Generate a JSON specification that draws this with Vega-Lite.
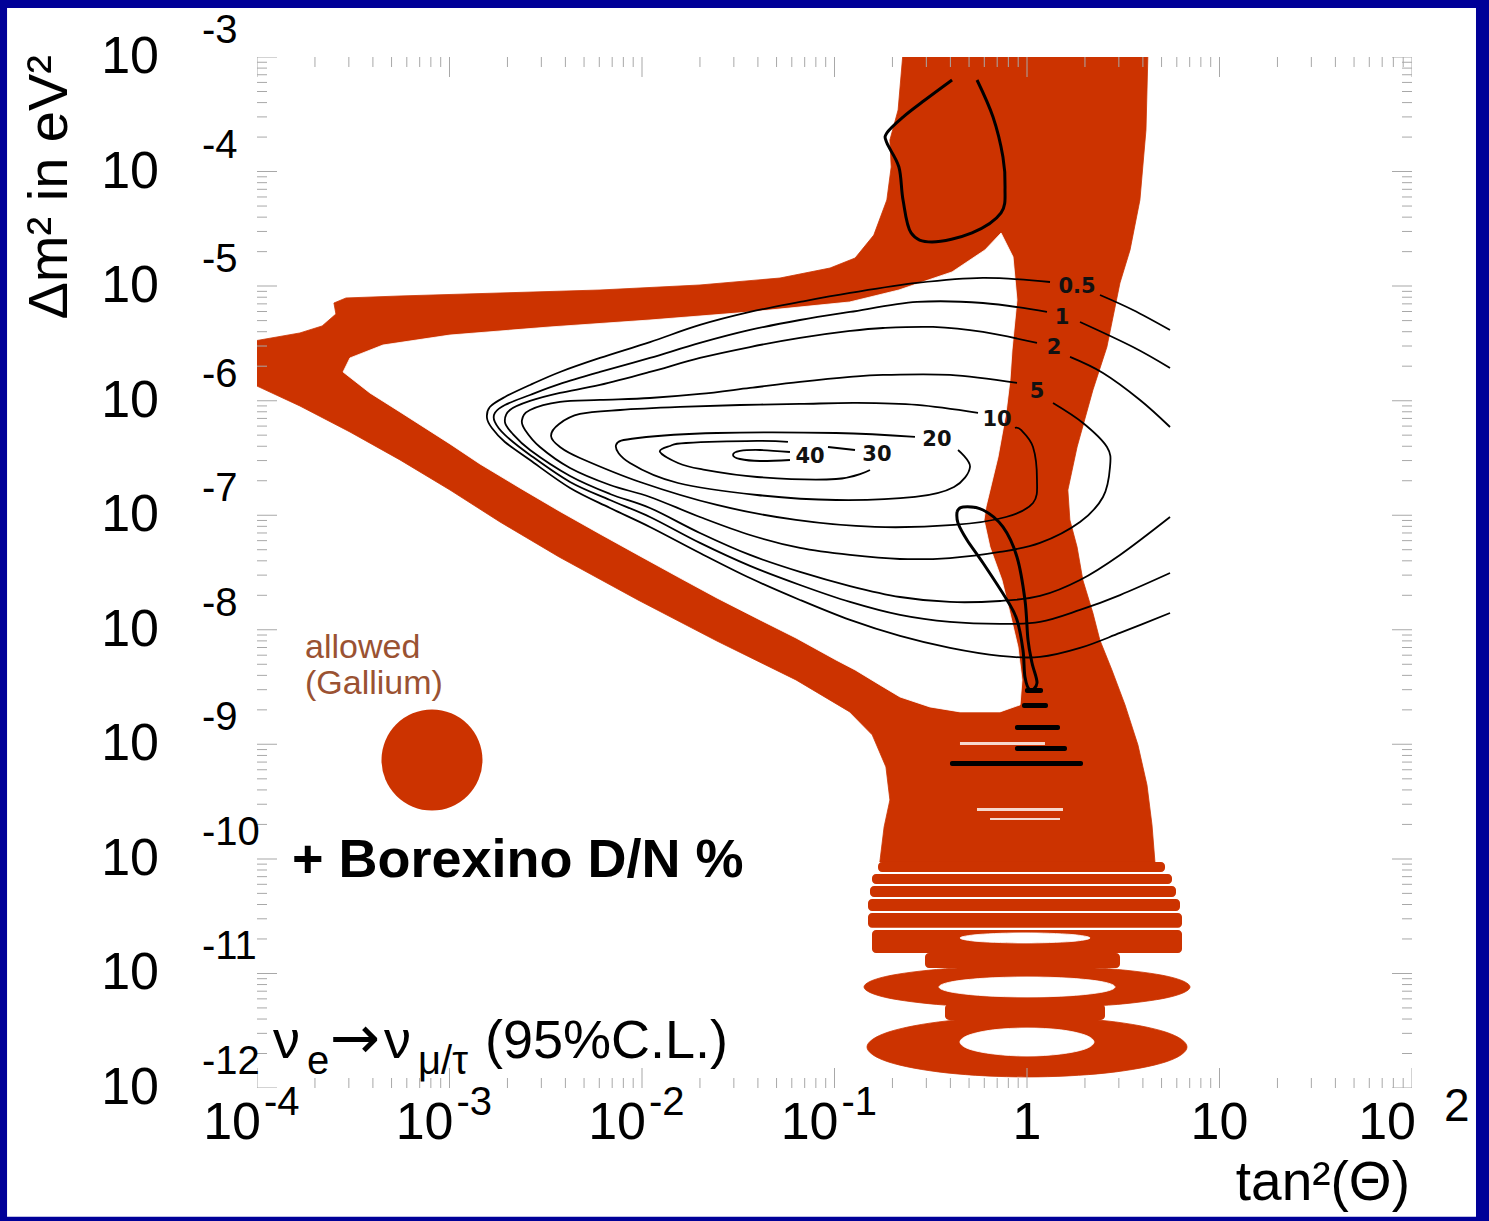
{
"$schema": "https://vega.github.io/schema/vega-lite/v6.json",
"width": 1155, "height": 1031,
"autosize": {"type": "none"},
"padding": {"left": 257, "top": 57, "right": 77, "bottom": 133},
"background": "#000098",
"config": {"view": {"stroke": null}, "text": {"font": "Liberation Sans"}},
"datasets": {
"red": [
{"s":"main","i":1,"x":0.227,"y":1.1e-3},{"s":"main","i":2,"x":4.25,"y":1.1e-3},{"s":"main","i":3,"x":4.15,"y":2.31e-4},{"s":"main","i":4,"x":3.86,"y":5.65e-5},{"s":"main","i":5,"x":3.43,"y":2.07e-5},{"s":"main","i":6,"x":3.04,"y":1.065e-5},{"s":"main","i":7,"x":2.60,"y":2.94e-6},{"s":"main","i":8,"x":2.20,"y":1.24e-6},{"s":"main","i":9,"x":1.82,"y":3.94e-7},{"s":"main","i":10,"x":1.63,"y":1.66e-7},{"s":"main","i":11,"x":1.67,"y":9.09e-8},{"s":"main","i":12,"x":1.82,"y":5.28e-8},{"s":"main","i":13,"x":1.95,"y":2.72e-8},{"s":"main","i":14,"x":2.20,"y":1.40e-8},{"s":"main","i":15,"x":2.39,"y":8.15e-9},{"s":"main","i":16,"x":2.76,"y":4.46e-9},{"s":"main","i":17,"x":3.23,"y":2.21e-9},{"s":"main","i":18,"x":3.77,"y":9.87e-10},{"s":"main","i":19,"x":4.20,"y":4.42e-10},{"s":"main","i":20,"x":4.46,"y":1.98e-10},{"s":"main","i":21,"x":4.62,"y":9.40e-11},{"s":"main","i":22,"x":0.172,"y":9.40e-11},{"s":"main","i":23,"x":0.181,"y":1.90e-10},{"s":"main","i":24,"x":0.194,"y":3.27e-10},{"s":"main","i":25,"x":0.185,"y":6.35e-10},{"s":"main","i":26,"x":0.157,"y":1.21e-9},{"s":"main","i":27,"x":0.120,"y":1.92e-9},{"s":"main","i":28,"x":0.0631,"y":3.65e-9},{"s":"main","i":29,"x":0.0245,"y":7.98e-9},{"s":"main","i":30,"x":0.00953,"y":1.82e-8},{"s":"main","i":31,"x":0.00371,"y":4.32e-8},{"s":"main","i":32,"x":0.00183,"y":8.73e-8},{"s":"main","i":33,"x":0.001006,"y":1.66e-7},{"s":"main","i":34,"x":5.53e-4,"y":3.04e-7},{"s":"main","i":35,"x":3.04e-4,"y":5.33e-7},{"s":"main","i":36,"x":1.67e-4,"y":8.99e-7},{"s":"main","i":37,"x":9e-5,"y":1.456e-6},{"s":"main","i":38,"x":9e-5,"y":3.25e-6},{"s":"main","i":39,"x":1.67e-4,"y":3.90e-6},{"s":"main","i":40,"x":2.18e-4,"y":4.49e-6},{"s":"main","i":41,"x":2.57e-4,"y":5.71e-6},{"s":"main","i":42,"x":2.51e-4,"y":7.12e-6},{"s":"main","i":43,"x":2.90e-4,"y":7.88e-6},{"s":"main","i":44,"x":5.53e-4,"y":8.20e-6},{"s":"main","i":45,"x":1.83e-3,"y":8.71e-6},{"s":"main","i":46,"x":6.05e-3,"y":9.25e-6},{"s":"main","i":47,"x":0.0200,"y":1.023e-5},{"s":"main","i":48,"x":0.0521,"y":1.177e-5},{"s":"main","i":49,"x":0.0948,"y":1.439e-5},{"s":"main","i":50,"x":0.128,"y":1.76e-5},{"s":"main","i":51,"x":0.160,"y":2.79e-5},{"s":"main","i":52,"x":0.187,"y":5.65e-5},{"s":"main","i":53,"x":0.197,"y":1.096e-4},{"s":"main","i":54,"x":0.194,"y":1.886e-4},{"s":"main","i":55,"x":0.214,"y":3.45e-4}
],
"redEll": [
{"s":"r1","i":1,"x":7.03,"y":7.62e-12},{"s":"r1","i":2,"x":5.41,"y":9.41e-12},{"s":"r1","i":3,"x":2.651,"y":1.099e-11},{"s":"r1","i":4,"x":1,"y":1.163e-11},{"s":"r1","i":5,"x":0.3772,"y":1.099e-11},{"s":"r1","i":6,"x":0.1848,"y":9.41e-12},{"s":"r1","i":7,"x":0.1423,"y":7.62e-12},{"s":"r1","i":8,"x":0.1848,"y":6.17e-12},{"s":"r1","i":9,"x":0.3772,"y":5.29e-12},{"s":"r1","i":10,"x":1,"y":5.00e-12},{"s":"r1","i":11,"x":2.651,"y":5.29e-12},{"s":"r1","i":12,"x":5.41,"y":6.17e-12},
{"s":"r2","i":1,"x":6.78,"y":2.28e-12},{"s":"r2","i":2,"x":5.25,"y":3.08e-12},{"s":"r2","i":3,"x":2.603,"y":3.85e-12},{"s":"r2","i":4,"x":1,"y":4.17e-12},{"s":"r2","i":5,"x":0.3842,"y":3.85e-12},{"s":"r2","i":6,"x":0.1906,"y":3.08e-12},{"s":"r2","i":7,"x":0.1475,"y":2.28e-12},{"s":"r2","i":8,"x":0.1906,"y":1.688e-12},{"s":"r2","i":9,"x":0.3842,"y":1.354e-12},{"s":"r2","i":10,"x":1,"y":1.249e-12},{"s":"r2","i":11,"x":2.603,"y":1.354e-12},{"s":"r2","i":12,"x":5.25,"y":1.688e-12}
],
"stripes": [
{"x1":0.1683,"x2":5.212,"y1":9.40e-11,"y2":7.69e-11},
{"x1":0.1566,"x2":5.666,"y1":7.39e-11,"y2":6.04e-11},
{"x1":0.1529,"x2":5.943,"y1":5.80e-11,"y2":4.65e-11},
{"x1":0.1493,"x2":6.234,"y1":4.47e-11,"y2":3.51e-11},
{"x1":0.1493,"x2":6.386,"y1":3.37e-11,"y2":2.50e-11},
{"x1":0.1566,"x2":6.386,"y1":2.40e-11,"y2":1.51e-11},
{"x1":0.2952,"x2":3.042,"y1":1.51e-11,"y2":1.117e-11},
{"x1":0.375,"x2":2.542,"y1":5.42e-12,"y2":3.93e-12}
],
"white": [
{"s":"hole","i":1,"x":2.80e-4,"y":1.78e-6},{"s":"hole","i":2,"x":3.04e-4,"y":2.36e-6},{"s":"hole","i":3,"x":4.51e-4,"y":3.06e-6},{"s":"hole","i":4,"x":1.006e-3,"y":3.74e-6},{"s":"hole","i":5,"x":3.33e-3,"y":4.40e-6},{"s":"hole","i":6,"x":0.0110,"y":5.06e-6},{"s":"hole","i":7,"x":0.0364,"y":5.94e-6},{"s":"hole","i":8,"x":0.120,"y":7.27e-6},{"s":"hole","i":9,"x":0.216,"y":9.25e-6},{"s":"hole","i":10,"x":0.408,"y":1.33e-5},{"s":"hole","i":11,"x":0.605,"y":2.07e-5},{"s":"hole","i":12,"x":0.733,"y":2.91e-5},{"s":"hole","i":13,"x":0.846,"y":1.80e-5},{"s":"hole","i":14,"x":0.887,"y":7.57e-6},{"s":"hole","i":15,"x":0.836,"y":2.77e-6},{"s":"hole","i":16,"x":0.816,"y":1.515e-6},{"s":"hole","i":17,"x":0.778,"y":7.81e-7},{"s":"hole","i":18,"x":0.707,"y":3.22e-7},{"s":"hole","i":19,"x":0.612,"y":1.18e-7},{"s":"hole","i":20,"x":0.598,"y":9.09e-8},{"s":"hole","i":21,"x":0.642,"y":5.28e-8},{"s":"hole","i":22,"x":0.741,"y":2.72e-8},{"s":"hole","i":23,"x":0.816,"y":1.40e-8},{"s":"hole","i":24,"x":0.898,"y":7.08e-9},{"s":"hole","i":25,"x":0.942,"y":3.65e-9},{"s":"hole","i":26,"x":0.920,"y":2.21e-9},{"s":"hole","i":27,"x":0.724,"y":1.92e-9},{"s":"hole","i":28,"x":0.449,"y":1.92e-9},{"s":"hole","i":29,"x":0.313,"y":2.12e-9},{"s":"hole","i":30,"x":0.219,"y":2.59e-9},{"s":"hole","i":31,"x":0.172,"y":3.30e-9},{"s":"hole","i":32,"x":0.128,"y":4.46e-9},{"s":"hole","i":33,"x":0.1018,"y":5.45e-9},{"s":"hole","i":34,"x":0.0631,"y":8.48e-9},{"s":"hole","i":35,"x":0.0410,"y":1.22e-8},{"s":"hole","i":36,"x":0.0245,"y":1.895e-8},{"s":"hole","i":37,"x":0.01576,"y":2.83e-8},{"s":"hole","i":38,"x":0.00953,"y":4.50e-8},{"s":"hole","i":39,"x":0.00605,"y":6.86e-8},{"s":"hole","i":40,"x":0.00371,"y":1.089e-7},{"s":"hole","i":41,"x":0.00232,"y":1.73e-7},{"s":"hole","i":42,"x":0.00144,"y":2.80e-7},{"s":"hole","i":43,"x":0.001006,"y":4.19e-7},{"s":"hole","i":44,"x":5.53e-4,"y":7.97e-7},{"s":"hole","i":45,"x":3.86e-4,"y":1.167e-6}
],
"whiteEll": [
{"s":"r1h","i":1,"x":2.865,"y":7.62e-12},{"s":"r1h","i":2,"x":2.488,"y":8.43e-12},{"s":"r1h","i":3,"x":1.693,"y":9.07e-12},{"s":"r1h","i":4,"x":1,"y":9.32e-12},{"s":"r1h","i":5,"x":0.591,"y":9.07e-12},{"s":"r1h","i":6,"x":0.402,"y":8.43e-12},{"s":"r1h","i":7,"x":0.349,"y":7.62e-12},{"s":"r1h","i":8,"x":0.402,"y":6.89e-12},{"s":"r1h","i":9,"x":0.591,"y":6.40e-12},{"s":"r1h","i":10,"x":1,"y":6.23e-12},{"s":"r1h","i":11,"x":1.693,"y":6.40e-12},{"s":"r1h","i":12,"x":2.488,"y":6.89e-12},
{"s":"r2h","i":1,"x":2.229,"y":2.52e-12},{"s":"r2h","i":2,"x":2.002,"y":2.90e-12},{"s":"r2h","i":3,"x":1.493,"y":3.22e-12},{"s":"r2h","i":4,"x":1,"y":3.34e-12},{"s":"r2h","i":5,"x":0.670,"y":3.22e-12},{"s":"r2h","i":6,"x":0.4995,"y":2.90e-12},{"s":"r2h","i":7,"x":0.4486,"y":2.52e-12},{"s":"r2h","i":8,"x":0.4995,"y":2.19e-12},{"s":"r2h","i":9,"x":0.670,"y":1.98e-12},{"s":"r2h","i":10,"x":1,"y":1.90e-12},{"s":"r2h","i":11,"x":1.493,"y":1.98e-12},{"s":"r2h","i":12,"x":2.002,"y":2.19e-12},
{"s":"s6h","i":1,"x":2.125,"y":2.04e-11},{"s":"s6h","i":2,"x":1.692,"y":2.19e-11},{"s":"s6h","i":3,"x":0.976,"y":2.26e-11},{"s":"s6h","i":4,"x":0.563,"y":2.19e-11},{"s":"s6h","i":5,"x":0.449,"y":2.04e-11},{"s":"s6h","i":6,"x":0.563,"y":1.90e-11},{"s":"s6h","i":7,"x":0.976,"y":1.845e-11},{"s":"s6h","i":8,"x":1.692,"y":1.90e-11}
],
"streaks": [
{"x1":0.5498,"x2":1.538,"y1":2.783e-10,"y2":2.620e-10},
{"x1":0.6425,"x2":1.484,"y1":2.276e-10,"y2":2.187e-10},
{"x1":0.4486,"x2":1.240,"y1":1.049e-9,"y2":9.87e-10}
],
"bars": [
{"x1":0.976,"x2":1.211,"y1":3.10e-9,"y2":2.81e-9},
{"x1":0.942,"x2":1.285,"y1":2.30e-9,"y2":2.08e-9},
{"x1":0.866,"x2":1.484,"y1":1.476e-9,"y2":1.335e-9},
{"x1":0.866,"x2":1.613,"y1":9.68e-10,"y2":8.75e-10},
{"x1":0.398,"x2":1.954,"y1":7.16e-10,"y2":6.47e-10}
],
"contours": [
{"s":"c05a","i":1,"x":1.317,"y":1.086e-5},{"s":"c05a","i":2,"x":0.5906,"y":1.178e-5},{"s":"c05a","i":3,"x":0.2683,"y":1.065e-5},{"s":"c05a","i":4,"x":0.1204,"y":8.71e-6},{"s":"c05a","i":5,"x":0.0662,"y":7.27e-6},{"s":"c05a","i":6,"x":0.0364,"y":5.95e-6},{"s":"c05a","i":7,"x":0.0200,"y":4.58e-6},{"s":"c05a","i":8,"x":0.0110,"y":3.25e-6},{"s":"c05a","i":9,"x":0.00605,"y":2.36e-6},{"s":"c05a","i":10,"x":0.00375,"y":1.78e-6},{"s":"c05a","i":11,"x":0.00262,"y":1.371e-6},{"s":"c05a","i":12,"x":0.00194,"y":1.077e-6},{"s":"c05a","i":13,"x":0.00162,"y":8.81e-7},{"s":"c05a","i":14,"x":0.001566,"y":7.06e-7},{"s":"c05a","i":15,"x":0.00166,"y":5.78e-7},{"s":"c05a","i":16,"x":0.00194,"y":4.36e-7},{"s":"c05a","i":17,"x":0.00262,"y":3.03e-7},{"s":"c05a","i":18,"x":0.00423,"y":1.729e-7},{"s":"c05a","i":19,"x":0.00682,"y":1.157e-7},{"s":"c05a","i":20,"x":0.0110,"y":7.90e-8},{"s":"c05a","i":21,"x":0.0200,"y":4.68e-8},{"s":"c05a","i":22,"x":0.0364,"y":2.83e-8},{"s":"c05a","i":23,"x":0.0662,"y":1.821e-8},{"s":"c05a","i":24,"x":0.1204,"y":1.218e-8},{"s":"c05a","i":25,"x":0.2189,"y":8.83e-9},{"s":"c05a","i":26,"x":0.398,"y":6.94e-9},{"s":"c05a","i":27,"x":0.724,"y":5.91e-9},{"s":"c05a","i":28,"x":1.168,"y":5.79e-9},{"s":"c05a","i":29,"x":1.885,"y":6.94e-9},{"s":"c05a","i":30,"x":3.042,"y":9.38e-9},{"s":"c05a","i":31,"x":5.533,"y":1.402e-8},
{"s":"c05b","i":1,"x":2.394,"y":8.37e-6},{"s":"c05b","i":2,"x":3.553,"y":6.19e-6},{"s":"c05b","i":3,"x":5.533,"y":4.14e-6},
{"s":"c1a","i":1,"x":1.270,"y":5.95e-6},{"s":"c1a","i":2,"x":0.5906,"y":7.12e-6},{"s":"c1a","i":3,"x":0.2683,"y":7.27e-6},{"s":"c1a","i":4,"x":0.1204,"y":5.95e-6},{"s":"c1a","i":5,"x":0.0662,"y":5.06e-6},{"s":"c1a","i":6,"x":0.0364,"y":4.14e-6},{"s":"c1a","i":7,"x":0.0200,"y":3.19e-6},{"s":"c1a","i":8,"x":0.0110,"y":2.36e-6},{"s":"c1a","i":9,"x":0.00605,"y":1.78e-6},{"s":"c1a","i":10,"x":0.00375,"y":1.399e-6},{"s":"c1a","i":11,"x":0.00262,"y":1.121e-6},{"s":"c1a","i":12,"x":0.00194,"y":9.17e-7},{"s":"c1a","i":13,"x":0.00172,"y":7.81e-7},{"s":"c1a","i":14,"x":0.00172,"y":6.52e-7},{"s":"c1a","i":15,"x":0.00194,"y":5.02e-7},{"s":"c1a","i":16,"x":0.00262,"y":3.36e-7},{"s":"c1a","i":17,"x":0.00423,"y":1.950e-7},{"s":"c1a","i":18,"x":0.00682,"y":1.358e-7},{"s":"c1a","i":19,"x":0.0110,"y":9.65e-8},{"s":"c1a","i":20,"x":0.0200,"y":5.73e-8},{"s":"c1a","i":21,"x":0.0364,"y":3.61e-8},{"s":"c1a","i":22,"x":0.0662,"y":2.46e-8},{"s":"c1a","i":23,"x":0.1204,"y":1.749e-8},{"s":"c1a","i":24,"x":0.2189,"y":1.347e-8},{"s":"c1a","i":25,"x":0.398,"y":1.170e-8},{"s":"c1a","i":26,"x":0.724,"y":1.124e-8},{"s":"c1a","i":27,"x":1.168,"y":1.170e-8},{"s":"c1a","i":28,"x":1.885,"y":1.489e-8},{"s":"c1a","i":29,"x":3.042,"y":2.01e-8},{"s":"c1a","i":30,"x":5.533,"y":3.13e-8},
{"s":"c1b","i":1,"x":1.885,"y":4.86e-6},{"s":"c1b","i":2,"x":3.553,"y":2.94e-6},{"s":"c1b","i":3,"x":5.533,"y":1.928e-6},
{"s":"c2a","i":1,"x":1.127,"y":3.19e-6},{"s":"c2a","i":2,"x":0.5906,"y":3.98e-6},{"s":"c2a","i":3,"x":0.3248,"y":4.40e-6},{"s":"c2a","i":4,"x":0.1786,"y":4.31e-6},{"s":"c2a","i":5,"x":0.1204,"y":4.06e-6},{"s":"c2a","i":6,"x":0.0662,"y":3.53e-6},{"s":"c2a","i":7,"x":0.0364,"y":2.94e-6},{"s":"c2a","i":8,"x":0.0200,"y":2.36e-6},{"s":"c2a","i":9,"x":0.0110,"y":1.78e-6},{"s":"c2a","i":10,"x":0.00605,"y":1.371e-6},{"s":"c2a","i":11,"x":0.00375,"y":1.167e-6},{"s":"c2a","i":12,"x":0.00262,"y":9.94e-7},{"s":"c2a","i":13,"x":0.00206,"y":8.29e-7},{"s":"c2a","i":14,"x":0.00194,"y":6.52e-7},{"s":"c2a","i":15,"x":0.00211,"y":5.22e-7},{"s":"c2a","i":16,"x":0.00262,"y":3.71e-7},{"s":"c2a","i":17,"x":0.00423,"y":2.20e-7},{"s":"c2a","i":18,"x":0.00682,"y":1.533e-7},{"s":"c2a","i":19,"x":0.0110,"y":1.157e-7},{"s":"c2a","i":20,"x":0.0200,"y":7.00e-8},{"s":"c2a","i":21,"x":0.0364,"y":4.50e-8},{"s":"c2a","i":22,"x":0.0662,"y":3.20e-8},{"s":"c2a","i":23,"x":0.1204,"y":2.41e-8},{"s":"c2a","i":24,"x":0.2189,"y":1.933e-8},{"s":"c2a","i":25,"x":0.398,"y":1.749e-8},{"s":"c2a","i":26,"x":0.724,"y":1.784e-8},{"s":"c2a","i":27,"x":1.168,"y":1.972e-8},{"s":"c2a","i":28,"x":1.885,"y":2.72e-8},{"s":"c2a","i":29,"x":3.042,"y":4.50e-8},{"s":"c2a","i":30,"x":5.533,"y":9.65e-8},
{"s":"c2b","i":1,"x":1.673,"y":2.41e-6},{"s":"c2b","i":2,"x":2.482,"y":1.744e-6},{"s":"c2b","i":3,"x":3.864,"y":1.014e-6},{"s":"c2b","i":4,"x":5.533,"y":5.89e-7},
{"s":"c5a","i":1,"x":0.8874,"y":1.427e-6},{"s":"c5a","i":2,"x":0.398,"y":1.676e-6},{"s":"c5a","i":3,"x":0.1786,"y":1.676e-6},{"s":"c5a","i":4,"x":0.1204,"y":1.610e-6},{"s":"c5a","i":5,"x":0.0662,"y":1.456e-6},{"s":"c5a","i":6,"x":0.0364,"y":1.291e-6},{"s":"c5a","i":7,"x":0.0200,"y":1.144e-6},{"s":"c5a","i":8,"x":0.0110,"y":1.055e-6},{"s":"c5a","i":9,"x":0.00605,"y":1.014e-6},{"s":"c5a","i":10,"x":0.00375,"y":9.74e-7},{"s":"c5a","i":11,"x":0.00262,"y":8.29e-7},{"s":"c5a","i":12,"x":0.00238,"y":6.78e-7},{"s":"c5a","i":13,"x":0.00247,"y":5.55e-7},{"s":"c5a","i":14,"x":0.00295,"y":3.94e-7},{"s":"c5a","i":15,"x":0.00423,"y":2.585e-7},{"s":"c5a","i":16,"x":0.00682,"y":1.836e-7},{"s":"c5a","i":17,"x":0.0110,"y":1.443e-7},{"s":"c5a","i":18,"x":0.0200,"y":9.65e-8},{"s":"c5a","i":19,"x":0.0364,"y":6.72e-8},{"s":"c5a","i":20,"x":0.0662,"y":5.18e-8},{"s":"c5a","i":21,"x":0.1204,"y":4.50e-8},{"s":"c5a","i":22,"x":0.2189,"y":4.15e-8},{"s":"c5a","i":23,"x":0.398,"y":4.23e-8},{"s":"c5a","i":24,"x":0.724,"y":4.78e-8},{"s":"c5a","i":25,"x":1.168,"y":5.73e-8},{"s":"c5a","i":26,"x":1.885,"y":8.73e-8},{"s":"c5a","i":27,"x":2.482,"y":1.443e-7},{"s":"c5a","i":28,"x":2.699,"y":2.637e-7},{"s":"c5a","i":29,"x":2.603,"y":3.94e-7},{"s":"c5a","i":30,"x":1.954,"y":6.39e-7},{"s":"c5a","i":31,"x":1.365,"y":9.55e-7},
{"s":"c10a","i":1,"x":0.5566,"y":7.81e-7},{"s":"c10a","i":2,"x":0.2683,"y":9.17e-7},{"s":"c10a","i":3,"x":0.1309,"y":9.55e-7},{"s":"c10a","i":4,"x":0.0662,"y":9.36e-7},{"s":"c10a","i":5,"x":0.0323,"y":9.17e-7},{"s":"c10a","i":6,"x":0.01576,"y":8.81e-7},{"s":"c10a","i":7,"x":0.00769,"y":8.29e-7},{"s":"c10a","i":8,"x":0.00476,"y":7.65e-7},{"s":"c10a","i":9,"x":0.00371,"y":6.26e-7},{"s":"c10a","i":10,"x":0.00337,"y":4.92e-7},{"s":"c10a","i":11,"x":0.00375,"y":3.94e-7},{"s":"c10a","i":12,"x":0.00476,"y":3.16e-7},{"s":"c10a","i":13,"x":0.00976,"y":1.950e-7},{"s":"c10a","i":14,"x":0.0245,"y":1.229e-7},{"s":"c10a","i":15,"x":0.0631,"y":9.09e-8},{"s":"c10a","i":16,"x":0.1623,"y":7.90e-8},{"s":"c10a","i":17,"x":0.4177,"y":8.22e-8},{"s":"c10a","i":18,"x":0.778,"y":9.65e-8},{"s":"c10a","i":19,"x":1.0745,"y":1.279e-7},{"s":"c10a","i":20,"x":1.127,"y":2.031e-7},{"s":"c10a","i":21,"x":1.0745,"y":3.94e-7},{"s":"c10a","i":22,"x":0.9307,"y":5.55e-7},{"s":"c10a","i":23,"x":0.866,"y":5.78e-7},
{"s":"c20","i":1,"x":0.4382,"y":3.71e-7},{"s":"c20","i":2,"x":0.5057,"y":2.637e-7},{"s":"c20","i":3,"x":0.4177,"y":1.764e-7},{"s":"c20","i":4,"x":0.2619,"y":1.443e-7},{"s":"c20","i":5,"x":0.1018,"y":1.358e-7},{"s":"c20","i":6,"x":0.0396,"y":1.502e-7},{"s":"c20","i":7,"x":0.01538,"y":1.911e-7},{"s":"c20","i":8,"x":0.00866,"y":2.858e-7},{"s":"c20","i":9,"x":0.00733,"y":4.103e-7},{"s":"c20","i":10,"x":0.00953,"y":4.72e-7},{"s":"c20","i":11,"x":0.0245,"y":5.22e-7},{"s":"c20","i":12,"x":0.1018,"y":5.22e-7},{"s":"c20","i":13,"x":0.2619,"y":4.82e-7},
{"s":"c30a","i":1,"x":0.1529,"y":2.483e-7},{"s":"c30a","i":2,"x":0.1018,"y":2.072e-7},{"s":"c30a","i":3,"x":0.0396,"y":2.157e-7},{"s":"c30a","i":4,"x":0.0200,"y":2.534e-7},{"s":"c30a","i":5,"x":0.01538,"y":2.858e-7},{"s":"c30a","i":6,"x":0.0124,"y":3.565e-7},{"s":"c30a","i":7,"x":0.01398,"y":4.02e-7},{"s":"c30a","i":8,"x":0.01693,"y":4.27e-7},{"s":"c30a","i":9,"x":0.0396,"y":4.45e-7},{"s":"c30a","i":10,"x":0.0573,"y":4.36e-7},
{"s":"c30b","i":1,"x":0.0925,"y":3.94e-7},{"s":"c30b","i":2,"x":0.1278,"y":3.71e-7},
{"s":"c40","i":1,"x":0.0587,"y":3.565e-7},{"s":"c40","i":2,"x":0.0410,"y":3.711e-7},{"s":"c40","i":3,"x":0.0323,"y":3.637e-7},{"s":"c40","i":4,"x":0.0297,"y":3.356e-7},{"s":"c40","i":5,"x":0.0323,"y":3.096e-7},{"s":"c40","i":6,"x":0.0410,"y":2.975e-7},{"s":"c40","i":7,"x":0.0587,"y":3.034e-7}
],
"loops": [
{"s":"L1","i":1,"x":0.408,"y":6.30e-4},{"s":"L1","i":2,"x":0.295,"y":4.21e-4},{"s":"L1","i":3,"x":0.227,"y":2.99e-4},{"s":"L1","i":4,"x":0.187,"y":2.17e-4},{"s":"L1","i":5,"x":0.187,"y":1.78e-4},{"s":"L1","i":6,"x":0.216,"y":1.096e-4},{"s":"L1","i":7,"x":0.227,"y":5.65e-5},{"s":"L1","i":8,"x":0.250,"y":2.91e-5},{"s":"L1","i":9,"x":0.321,"y":2.43e-5},{"s":"L1","i":10,"x":0.518,"y":2.91e-5},{"s":"L1","i":11,"x":0.733,"y":4.35e-5},{"s":"L1","i":12,"x":0.769,"y":7.33e-5},{"s":"L1","i":13,"x":0.750,"y":1.34e-4},{"s":"L1","i":14,"x":0.666,"y":2.99e-4},{"s":"L1","i":15,"x":0.550,"y":6.30e-4},
{"s":"L2","i":1,"x":0.433,"y":1.067e-7},{"s":"L2","i":2,"x":0.465,"y":1.18e-7},{"s":"L2","i":3,"x":0.591,"y":1.111e-7},{"s":"L2","i":4,"x":0.750,"y":7.90e-8},{"s":"L2","i":5,"x":0.887,"y":4.32e-8},{"s":"L2","i":6,"x":0.976,"y":1.82e-8},{"s":"L2","i":7,"x":1.012,"y":8.15e-9},{"s":"L2","i":8,"x":1.062,"y":5.13e-9},{"s":"L2","i":9,"x":1.127,"y":3.43e-9},{"s":"L2","i":10,"x":1.037,"y":2.98e-9},{"s":"L2","i":11,"x":0.976,"y":3.87e-9},{"s":"L2","i":12,"x":0.953,"y":6.66e-9},{"s":"L2","i":13,"x":0.887,"y":1.22e-8},{"s":"L2","i":14,"x":0.787,"y":1.82e-8},{"s":"L2","i":15,"x":0.591,"y":3.83e-8},{"s":"L2","i":16,"x":0.488,"y":6.08e-8},{"s":"L2","i":17,"x":0.438,"y":8.56e-8},{"s":"L2","i":18,"x":0.433,"y":1.067e-7}
],
"ticksY": [
{"v":1e-12,"k":"M"},{"v":2e-12,"k":"m"},{"v":3e-12,"k":"m"},{"v":4e-12,"k":"m"},{"v":5e-12,"k":"m"},{"v":6e-12,"k":"m"},{"v":7e-12,"k":"m"},{"v":8e-12,"k":"m"},{"v":9e-12,"k":"m"},
{"v":1e-11,"k":"M"},{"v":2e-11,"k":"m"},{"v":3e-11,"k":"m"},{"v":4e-11,"k":"m"},{"v":5e-11,"k":"m"},{"v":6e-11,"k":"m"},{"v":7e-11,"k":"m"},{"v":8e-11,"k":"m"},{"v":9e-11,"k":"m"},
{"v":1e-10,"k":"M"},{"v":2e-10,"k":"m"},{"v":3e-10,"k":"m"},{"v":4e-10,"k":"m"},{"v":5e-10,"k":"m"},{"v":6e-10,"k":"m"},{"v":7e-10,"k":"m"},{"v":8e-10,"k":"m"},{"v":9e-10,"k":"m"},
{"v":1e-9,"k":"M"},{"v":2e-9,"k":"m"},{"v":3e-9,"k":"m"},{"v":4e-9,"k":"m"},{"v":5e-9,"k":"m"},{"v":6e-9,"k":"m"},{"v":7e-9,"k":"m"},{"v":8e-9,"k":"m"},{"v":9e-9,"k":"m"},
{"v":1e-8,"k":"M"},{"v":2e-8,"k":"m"},{"v":3e-8,"k":"m"},{"v":4e-8,"k":"m"},{"v":5e-8,"k":"m"},{"v":6e-8,"k":"m"},{"v":7e-8,"k":"m"},{"v":8e-8,"k":"m"},{"v":9e-8,"k":"m"},
{"v":1e-7,"k":"M"},{"v":2e-7,"k":"m"},{"v":3e-7,"k":"m"},{"v":4e-7,"k":"m"},{"v":5e-7,"k":"m"},{"v":6e-7,"k":"m"},{"v":7e-7,"k":"m"},{"v":8e-7,"k":"m"},{"v":9e-7,"k":"m"},
{"v":1e-6,"k":"M"},{"v":2e-6,"k":"m"},{"v":3e-6,"k":"m"},{"v":4e-6,"k":"m"},{"v":5e-6,"k":"m"},{"v":6e-6,"k":"m"},{"v":7e-6,"k":"m"},{"v":8e-6,"k":"m"},{"v":9e-6,"k":"m"},
{"v":1e-5,"k":"M"},{"v":2e-5,"k":"m"},{"v":3e-5,"k":"m"},{"v":4e-5,"k":"m"},{"v":5e-5,"k":"m"},{"v":6e-5,"k":"m"},{"v":7e-5,"k":"m"},{"v":8e-5,"k":"m"},{"v":9e-5,"k":"m"},
{"v":1e-4,"k":"M"},{"v":2e-4,"k":"m"},{"v":3e-4,"k":"m"},{"v":4e-4,"k":"m"},{"v":5e-4,"k":"m"},{"v":6e-4,"k":"m"},{"v":7e-4,"k":"m"},{"v":8e-4,"k":"m"},{"v":9e-4,"k":"m"},
{"v":1e-3,"k":"M"}
],
"ticksX": [
{"v":1e-4,"k":"M"},{"v":2e-4,"k":"m"},{"v":3e-4,"k":"m"},{"v":4e-4,"k":"m"},{"v":5e-4,"k":"m"},{"v":6e-4,"k":"m"},{"v":7e-4,"k":"m"},{"v":8e-4,"k":"m"},{"v":9e-4,"k":"m"},
{"v":1e-3,"k":"M"},{"v":2e-3,"k":"m"},{"v":3e-3,"k":"m"},{"v":4e-3,"k":"m"},{"v":5e-3,"k":"m"},{"v":6e-3,"k":"m"},{"v":7e-3,"k":"m"},{"v":8e-3,"k":"m"},{"v":9e-3,"k":"m"},
{"v":0.01,"k":"M"},{"v":0.02,"k":"m"},{"v":0.03,"k":"m"},{"v":0.04,"k":"m"},{"v":0.05,"k":"m"},{"v":0.06,"k":"m"},{"v":0.07,"k":"m"},{"v":0.08,"k":"m"},{"v":0.09,"k":"m"},
{"v":0.1,"k":"M"},{"v":0.2,"k":"m"},{"v":0.3,"k":"m"},{"v":0.4,"k":"m"},{"v":0.5,"k":"m"},{"v":0.6,"k":"m"},{"v":0.7,"k":"m"},{"v":0.8,"k":"m"},{"v":0.9,"k":"m"},
{"v":1,"k":"M"},{"v":2,"k":"m"},{"v":3,"k":"m"},{"v":4,"k":"m"},{"v":5,"k":"m"},{"v":6,"k":"m"},{"v":7,"k":"m"},{"v":8,"k":"m"},{"v":9,"k":"m"},
{"v":10,"k":"M"},{"v":20,"k":"m"},{"v":30,"k":"m"},{"v":40,"k":"m"},{"v":50,"k":"m"},{"v":60,"k":"m"},{"v":70,"k":"m"},{"v":80,"k":"m"},{"v":90,"k":"m"},
{"v":100,"k":"M"}
],
"yLab": [{"v":1e-3,"b":"10","e":"-3"},{"v":1e-4,"b":"10","e":"-4"},{"v":1e-5,"b":"10","e":"-5"},{"v":1e-6,"b":"10","e":"-6"},{"v":1e-7,"b":"10","e":"-7"},{"v":1e-8,"b":"10","e":"-8"},{"v":1e-9,"b":"10","e":"-9"},{"v":1e-10,"b":"10","e":"-10"},{"v":1e-11,"b":"10","e":"-11"},{"v":1e-12,"b":"10","e":"-12"}],
"xLab": [{"v":1e-4,"b":"10","e":"-4"},{"v":1e-3,"b":"10","e":"-3"},{"v":0.01,"b":"10","e":"-2"},{"v":0.1,"b":"10","e":"-1"},{"v":1,"b":"1","e":""},{"v":10,"b":"10","e":""},{"v":100,"b":"10","e":"2"}]
},
"layer": [
{"data": {"values": [{"x1": 5.03e-6, "x2": 215, "y1": 2.68e-3, "y2": 7.5e-14}]},
 "mark": {"type": "rect", "fill": "#ffffff", "clip": false},
 "encoding": {
  "x": {"field": "x1", "type": "quantitative", "scale": {"type": "log", "domain": [0.0001, 100], "nice": false}, "axis": null},
  "x2": {"field": "x2"},
  "y": {"field": "y1", "type": "quantitative", "scale": {"type": "log", "domain": [1e-12, 0.001], "nice": false}, "axis": null},
  "y2": {"field": "y2"}
 }},
{"data": {"name": "red"},
 "mark": {"type": "line", "fill": "#cc3300", "stroke": "#cc3300", "strokeWidth": 0.8, "interpolate": "linear-closed", "clip": true},
 "encoding": {"x": {"field": "x", "type": "quantitative", "axis": null}, "y": {"field": "y", "type": "quantitative", "axis": null}, "detail": {"field": "s"}, "order": {"field": "i", "type": "quantitative"}}},
{"data": {"name": "redEll"},
 "mark": {"type": "line", "fill": "#cc3300", "stroke": "#cc3300", "strokeWidth": 0.8, "interpolate": "cardinal-closed", "clip": true},
 "encoding": {"x": {"field": "x", "type": "quantitative", "axis": null}, "y": {"field": "y", "type": "quantitative", "axis": null}, "detail": {"field": "s"}, "order": {"field": "i", "type": "quantitative"}}},
{"data": {"name": "stripes"},
 "mark": {"type": "rect", "color": "#cc3300", "cornerRadius": 4, "clip": true},
 "encoding": {"x": {"field": "x1", "type": "quantitative", "axis": null}, "x2": {"field": "x2"}, "y": {"field": "y1", "type": "quantitative", "axis": null}, "y2": {"field": "y2"}}},
{"data": {"name": "white"},
 "mark": {"type": "line", "fill": "#ffffff", "stroke": "#ffffff", "strokeWidth": 0.8, "interpolate": "linear-closed", "clip": true},
 "encoding": {"x": {"field": "x", "type": "quantitative", "axis": null}, "y": {"field": "y", "type": "quantitative", "axis": null}, "detail": {"field": "s"}, "order": {"field": "i", "type": "quantitative"}}},
{"data": {"name": "whiteEll"},
 "mark": {"type": "line", "fill": "#ffffff", "stroke": "#ffffff", "strokeWidth": 0.8, "interpolate": "cardinal-closed", "clip": true},
 "encoding": {"x": {"field": "x", "type": "quantitative", "axis": null}, "y": {"field": "y", "type": "quantitative", "axis": null}, "detail": {"field": "s"}, "order": {"field": "i", "type": "quantitative"}}},
{"data": {"name": "streaks"},
 "mark": {"type": "rect", "color": "#f6d8cc", "clip": true},
 "encoding": {"x": {"field": "x1", "type": "quantitative", "axis": null}, "x2": {"field": "x2"}, "y": {"field": "y1", "type": "quantitative", "axis": null}, "y2": {"field": "y2"}}},
{"mark": {"type": "rule", "color": "#3a3a3a", "strokeWidth": 1},
 "encoding": {"x": {"datum": 1, "type": "quantitative", "axis": null}}},
{"data": {"name": "bars"},
 "mark": {"type": "rect", "color": "#000000", "cornerRadius": 2, "clip": true},
 "encoding": {"x": {"field": "x1", "type": "quantitative", "axis": null}, "x2": {"field": "x2"}, "y": {"field": "y1", "type": "quantitative", "axis": null}, "y2": {"field": "y2"}}},
{"data": {"name": "contours"},
 "mark": {"type": "line", "color": "#000000", "strokeWidth": 1.8, "interpolate": "cardinal", "clip": true},
 "encoding": {"x": {"field": "x", "type": "quantitative", "axis": null}, "y": {"field": "y", "type": "quantitative", "axis": null}, "detail": {"field": "s"}, "order": {"field": "i", "type": "quantitative"}}},
{"data": {"name": "loops"},
 "mark": {"type": "line", "color": "#000000", "strokeWidth": 3, "interpolate": "cardinal", "clip": true},
 "encoding": {"x": {"field": "x", "type": "quantitative", "axis": null}, "y": {"field": "y", "type": "quantitative", "axis": null}, "detail": {"field": "s"}, "order": {"field": "i", "type": "quantitative"}}},
{"data": {"values": [{"x":1.818,"y":9.82e-6,"t":"0.5"},{"x":1.520,"y":5.27e-6,"t":"1"},{"x":1.381,"y":2.88e-6,"t":"2"},{"x":1.127,"y":1.19e-6,"t":"5"},{"x":0.6985,"y":6.78e-7,"t":"10"},{"x":0.3407,"y":4.54e-7,"t":"20"},{"x":0.1662,"y":3.36e-7,"t":"30"},{"x":0.0746,"y":3.22e-7,"t":"40"}]},
 "mark": {"type": "text", "font": "DejaVu Sans", "fontWeight": "bold", "fontSize": 21, "color": "#111111", "align": "center", "baseline": "middle"},
 "encoding": {"x": {"field": "x", "type": "quantitative", "axis": null}, "y": {"field": "y", "type": "quantitative", "axis": null}, "text": {"field": "t"}}},
{"data": {"values": [{"x": 8.11e-4, "y": 7.30e-10}]},
 "mark": {"type": "circle", "size": 10200, "color": "#cc3300", "opacity": 1},
 "encoding": {"x": {"field": "x", "type": "quantitative", "axis": null}, "y": {"field": "y", "type": "quantitative", "axis": null}}},
{"data": {"values": [{"x":1.776e-4,"y":5.67e-9,"t":"allowed"},{"x":1.776e-4,"y":2.73e-9,"t":"(Gallium)"}]},
 "mark": {"type": "text", "fontSize": 34, "color": "#9a5232", "align": "left", "baseline": "alphabetic"},
 "encoding": {"x": {"field": "x", "type": "quantitative", "axis": null}, "y": {"field": "y", "type": "quantitative", "axis": null}, "text": {"field": "t"}}},
{"data": {"values": [{"x":1.519e-4,"y":6.95e-11,"t":"+ Borexino D/N %"}]},
 "mark": {"type": "text", "fontSize": 54, "fontWeight": "bold", "color": "#000000", "align": "left", "baseline": "alphabetic"},
 "encoding": {"x": {"field": "x", "type": "quantitative", "axis": null}, "y": {"field": "y", "type": "quantitative", "axis": null}, "text": {"field": "t"}}},
{"data": {"values": [{"x":1.211e-4,"y":1.83e-12,"t":"ν"},{"x":4.568e-4,"y":1.83e-12,"t":"ν"},{"x":1.529e-3,"y":1.83e-12,"t":"(95%C.L.)"}]},
 "mark": {"type": "text", "fontSize": 54, "color": "#000000", "align": "left", "baseline": "alphabetic"},
 "encoding": {"x": {"field": "x", "type": "quantitative", "axis": null}, "y": {"field": "y", "type": "quantitative", "axis": null}, "text": {"field": "t"}}},
{"data": {"values": [{"x":2.394e-4,"y":1.83e-12,"t":"→"}]},
 "mark": {"type": "text", "font": "DejaVu Sans", "fontSize": 60, "color": "#000000", "align": "left", "baseline": "alphabetic"},
 "encoding": {"x": {"field": "x", "type": "quantitative", "axis": null}, "y": {"field": "y", "type": "quantitative", "axis": null}, "text": {"field": "t"}}},
{"data": {"values": [{"x":1.819e-4,"y":1.326e-12,"t":"e"},{"x":6.862e-4,"y":1.326e-12,"t":"μ/τ"}]},
 "mark": {"type": "text", "fontSize": 40, "color": "#000000", "align": "left", "baseline": "alphabetic"},
 "encoding": {"x": {"field": "x", "type": "quantitative", "axis": null}, "y": {"field": "y", "type": "quantitative", "axis": null}, "text": {"field": "t"}}},
{"mark": {"type": "rule", "color": "#b0b0b0", "strokeWidth": 1.2}, "encoding": {"x": {"datum": 0.0001, "type": "quantitative", "axis": null}}},
{"mark": {"type": "rule", "color": "#b0b0b0", "strokeWidth": 1.2}, "encoding": {"x": {"datum": 100, "type": "quantitative", "axis": null}}},
{"mark": {"type": "rule", "color": "#b0b0b0", "strokeWidth": 1.2}, "encoding": {"y": {"datum": 0.001, "type": "quantitative", "axis": null}}},
{"mark": {"type": "rule", "color": "#b0b0b0", "strokeWidth": 1.2}, "encoding": {"y": {"datum": 1e-12, "type": "quantitative", "axis": null}}},
{"data": {"name": "ticksY"},
 "mark": {"type": "tick", "orient": "horizontal", "color": "#a8a8a8", "thickness": 1, "opacity": 1, "clip": true},
 "encoding": {"x": {"datum": 0.0001, "type": "quantitative", "axis": null}, "y": {"field": "v", "type": "quantitative", "axis": null}, "size": {"field": "k", "type": "ordinal", "scale": {"domain": ["M","m"], "range": [40, 20]}, "legend": null}}},
{"data": {"name": "ticksY"},
 "mark": {"type": "tick", "orient": "horizontal", "color": "#a8a8a8", "thickness": 1, "opacity": 1, "clip": true},
 "encoding": {"x": {"datum": 100, "type": "quantitative", "axis": null}, "y": {"field": "v", "type": "quantitative", "axis": null}, "size": {"field": "k", "type": "ordinal", "scale": {"domain": ["M","m"], "range": [40, 20]}, "legend": null}}},
{"data": {"name": "ticksX"},
 "mark": {"type": "tick", "orient": "vertical", "color": "#a8a8a8", "thickness": 1, "opacity": 1, "clip": true},
 "encoding": {"y": {"datum": 0.001, "type": "quantitative", "axis": null}, "x": {"field": "v", "type": "quantitative", "axis": null}, "size": {"field": "k", "type": "ordinal", "scale": {"domain": ["M","m"], "range": [40, 20]}, "legend": null}}},
{"data": {"name": "ticksX"},
 "mark": {"type": "tick", "orient": "vertical", "color": "#a8a8a8", "thickness": 1, "opacity": 1, "clip": true},
 "encoding": {"y": {"datum": 1e-12, "type": "quantitative", "axis": null}, "x": {"field": "v", "type": "quantitative", "axis": null}, "size": {"field": "k", "type": "ordinal", "scale": {"domain": ["M","m"], "range": [40, 20]}, "legend": null}}},
{"data": {"name": "yLab"},
 "mark": {"type": "text", "fontSize": 52, "color": "#000000", "align": "right", "baseline": "middle", "dx": -98, "clip": false},
 "encoding": {"x": {"datum": 0.0001, "type": "quantitative", "axis": null}, "y": {"field": "v", "type": "quantitative", "axis": null}, "text": {"field": "b"}}},
{"data": {"name": "yLab"},
 "mark": {"type": "text", "fontSize": 40, "color": "#000000", "align": "left", "baseline": "middle", "dx": -55, "dy": -26, "clip": false},
 "encoding": {"x": {"datum": 0.0001, "type": "quantitative", "axis": null}, "y": {"field": "v", "type": "quantitative", "axis": null}, "text": {"field": "e"}}},
{"data": {"name": "xLab"}, "transform": [{"filter": "datum.e != ''"}],
 "mark": {"type": "text", "fontSize": 52, "color": "#000000", "align": "right", "baseline": "top", "dx": 4, "dy": 10, "clip": false},
 "encoding": {"x": {"field": "v", "type": "quantitative", "axis": null}, "y": {"datum": 1e-12, "type": "quantitative", "axis": null}, "text": {"field": "b"}}},
{"data": {"name": "xLab"}, "transform": [{"filter": "datum.e == ''"}],
 "mark": {"type": "text", "fontSize": 52, "color": "#000000", "align": "center", "baseline": "top", "dy": 10, "clip": false},
 "encoding": {"x": {"field": "v", "type": "quantitative", "axis": null}, "y": {"datum": 1e-12, "type": "quantitative", "axis": null}, "text": {"field": "b"}}},
{"data": {"name": "xLab"}, "transform": [{"filter": "datum.e != '' && datum.v < 50"}],
 "mark": {"type": "text", "fontSize": 40, "color": "#000000", "align": "left", "baseline": "middle", "dx": 7, "dy": 15, "clip": false},
 "encoding": {"x": {"field": "v", "type": "quantitative", "axis": null}, "y": {"datum": 1e-12, "type": "quantitative", "axis": null}, "text": {"field": "e"}}},
{"data": {"name": "xLab"}, "transform": [{"filter": "datum.v > 50"}],
 "mark": {"type": "text", "fontSize": 46, "color": "#000000", "align": "left", "baseline": "middle", "dx": 32, "dy": 19, "clip": false},
 "encoding": {"x": {"field": "v", "type": "quantitative", "axis": null}, "y": {"datum": 1e-12, "type": "quantitative", "axis": null}, "text": {"field": "e"}}},
{"data": {"values": [{"x": 97.6, "y": 1.054e-13, "t": "tan²(Θ)"}]},
 "mark": {"type": "text", "fontSize": 55, "color": "#000000", "align": "right", "baseline": "alphabetic", "clip": false},
 "encoding": {"x": {"field": "x", "type": "quantitative", "axis": null}, "y": {"field": "y", "type": "quantitative", "axis": null}, "text": {"field": "t"}}},
{"data": {"values": [{"x": 1.03e-5, "y": 1.041e-3, "t": "Δm² in eV²"}]},
 "mark": {"type": "text", "fontSize": 56, "color": "#000000", "align": "right", "baseline": "alphabetic", "angle": 270, "clip": false},
 "encoding": {"x": {"field": "x", "type": "quantitative", "axis": null}, "y": {"field": "y", "type": "quantitative", "axis": null}, "text": {"field": "t"}}}
]
}
